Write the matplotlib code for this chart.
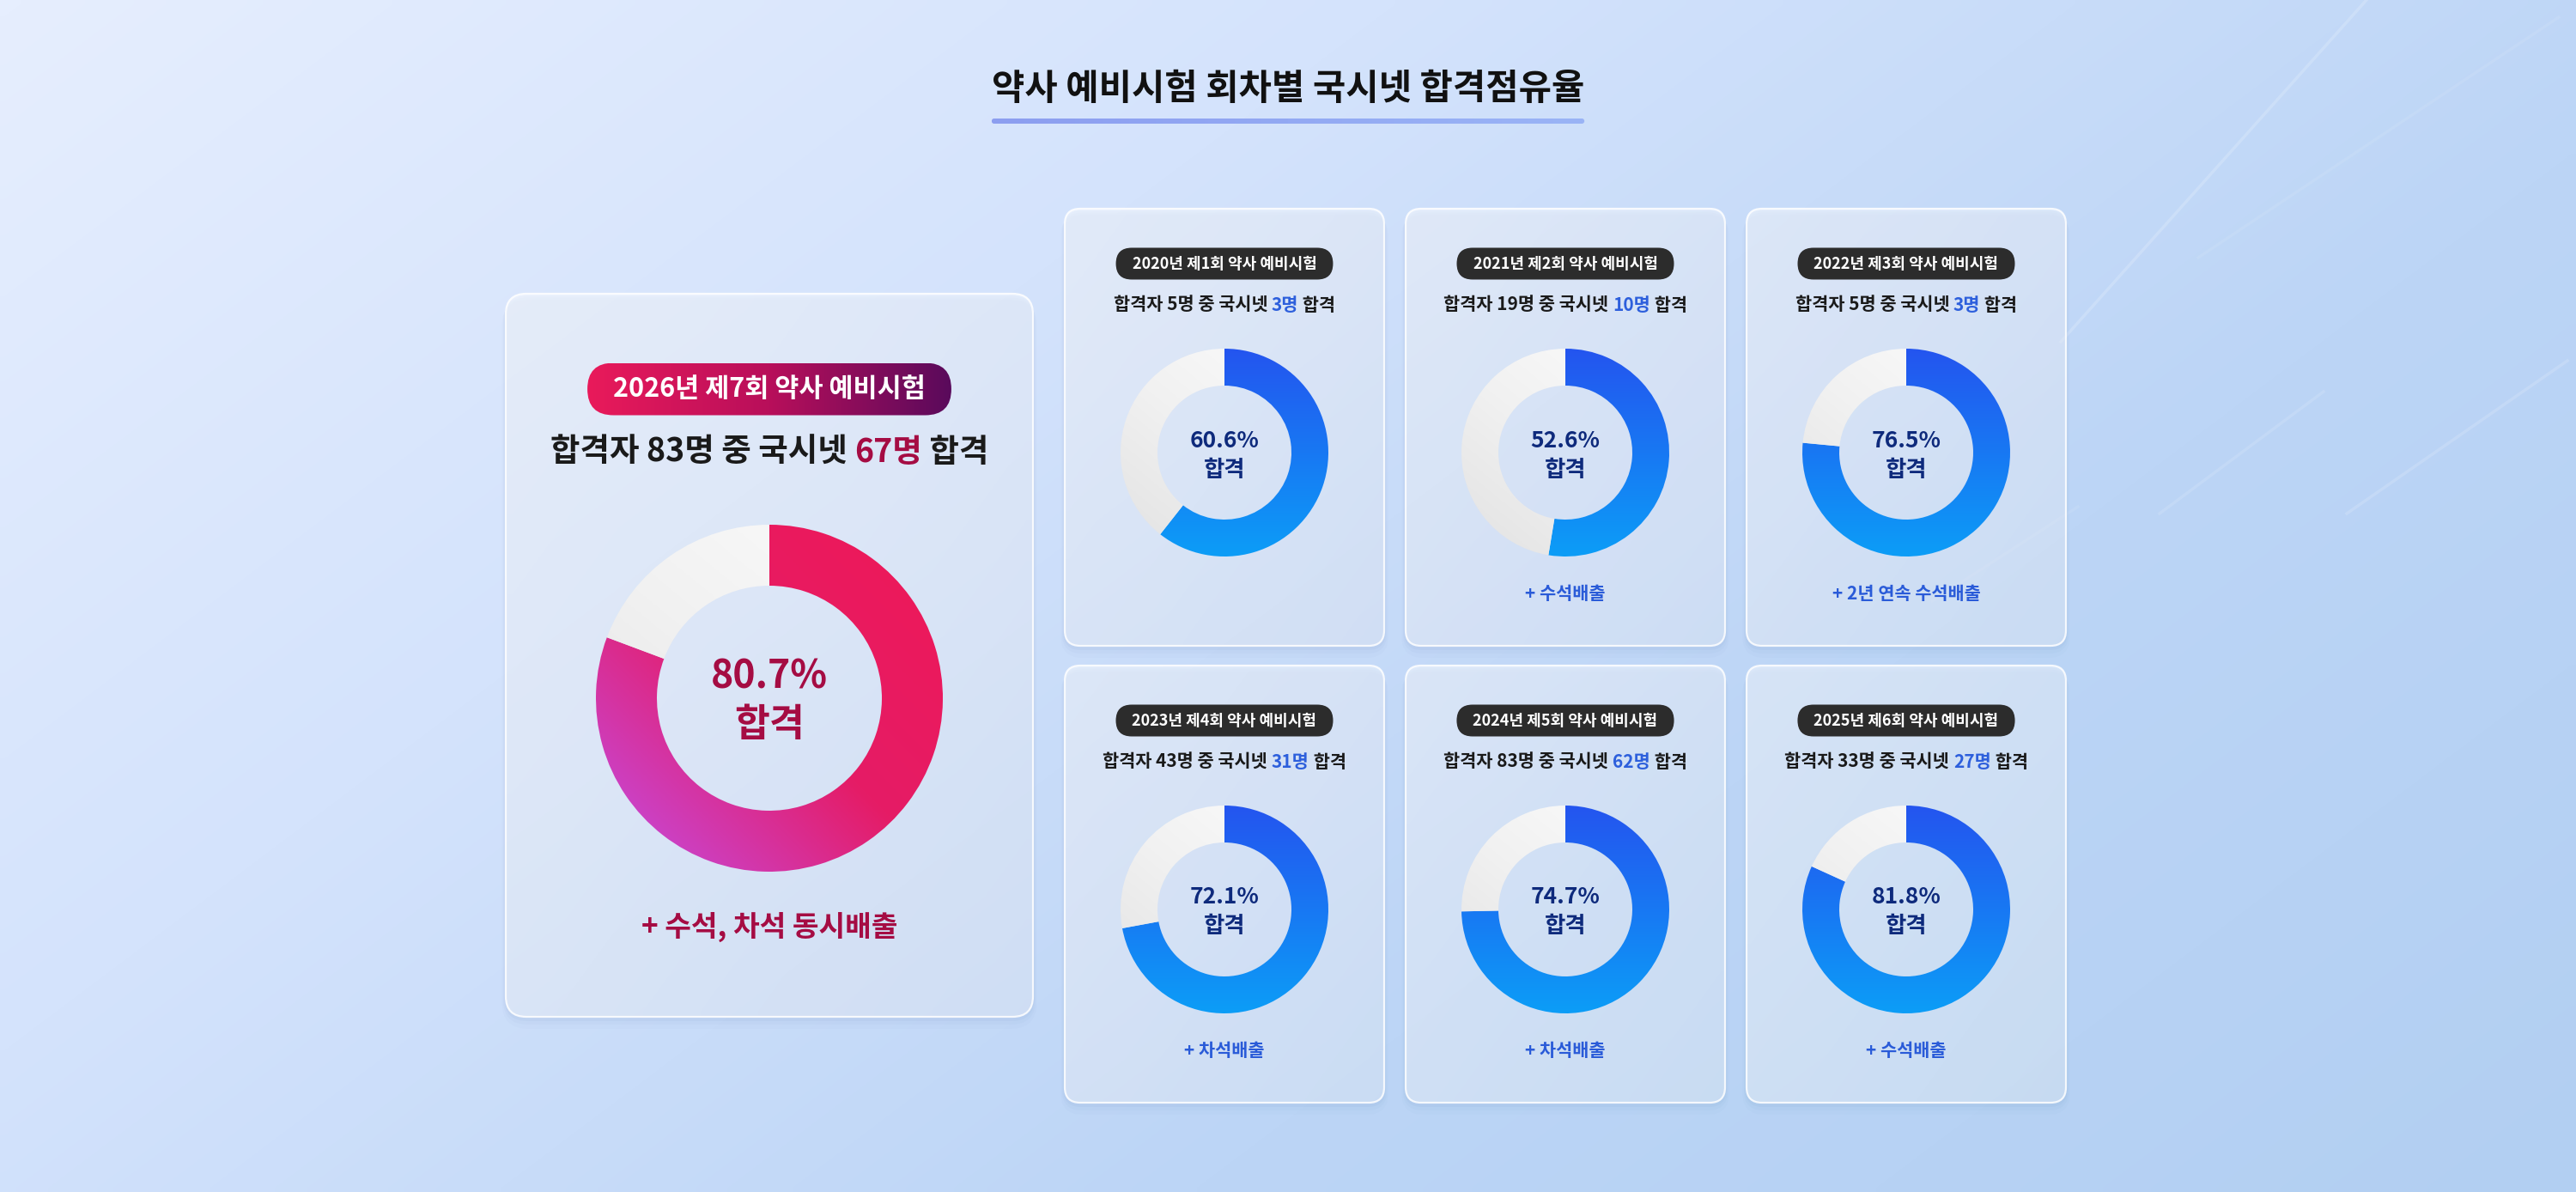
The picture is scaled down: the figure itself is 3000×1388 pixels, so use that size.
import numpy as np
import matplotlib
matplotlib.use('Agg')
import matplotlib.pyplot as plt
from matplotlib.patches import Wedge, FancyBboxPatch
from matplotlib.colors import LinearSegmentedColormap

plt.rcParams['font.family'] = ['Noto Sans CJK KR', 'DejaVu Sans']

W, H = 3000, 1388

# 회차별 데이터
years = [2020, 2021, 2022, 2023, 2024, 2025]
rounds = [1, 2, 3, 4, 5, 6]
total_pass = [5, 19, 5, 43, 83, 33]
net_pass = [3, 10, 3, 31, 62, 27]
share = [60.6, 52.6, 76.5, 72.1, 74.7, 81.8]
notes = ['', '수석배출', '2년 연속 수석배출', '차석배출', '차석배출', '수석배출']

# 최신 회차
main_year, main_round = 2026, 7
main_total, main_net, main_share = 83, 67, 80.7
main_note = '수석, 차석 동시배출'

title = '약사 예비시험 회차별 국시넷 합격점유율'

cm_bg = LinearSegmentedColormap.from_list('bg', ['#e6eefe', '#d4e3fc', '#bcd5f6', '#b2cff2'])
cm_blue = LinearSegmentedColormap.from_list('blue', ['#2455ef', '#1878f3', '#0c9df7'])
cm_pink = LinearSegmentedColormap.from_list('pink', ['#ef1857', '#e51c66', '#c24fe8'])
cm_gray = LinearSegmentedColormap.from_list('gray', ['#fcfcfc', '#f1f1f1', '#e2e2e2'])
cm_badge = LinearSegmentedColormap.from_list('badge', ['#e91a5b', '#b80f5a', '#5a0a5c'])

fig = plt.figure(figsize=(30, 13.88), dpi=100)
ax = fig.add_axes([0, 0, 1, 1])
ax.set_xlim(0, W)
ax.set_ylim(H, 0)
ax.axis('off')
renderer = fig.canvas.get_renderer()

# 배경
u, v = np.meshgrid(np.linspace(0, 1, 300), np.linspace(0, 1, 140))
ax.imshow(0.62 * u + 0.38 * v, cmap=cm_bg, vmin=0, vmax=1, extent=(0, W, H, 0),
          origin='upper', interpolation='bilinear', aspect='auto', zorder=0)
for (x0, y0, x1, y1, a) in [(2400, 398, 2756, 0, 0.18), (2733, 598, 2990, 420, 0.15),
                            (2515, 598, 2706, 456, 0.12), (2560, 300, 2980, 20, 0.08),
                            (2250, 700, 2420, 590, 0.08)]:
    ax.plot([x0, x1], [y0, y1], color='white', alpha=a, lw=2.5, zorder=1)


def text_width(s, size, weight):
    t = ax.text(0, 0, s, fontsize=size, fontweight=weight)
    w = t.get_window_extent(renderer).width
    t.remove()
    return w


def grad(clip, extent, t, cmap, z):
    im = ax.imshow(t, cmap=cmap, vmin=0, vmax=1, extent=extent, origin='upper',
                   interpolation='bilinear', aspect='auto', zorder=z)
    im.set_clip_path(clip)


def card(x, y, w, h, r):
    for d, a in [(14, 0.025), (9, 0.035), (5, 0.05)]:
        ax.add_patch(FancyBboxPatch((x - d / 3, y + d / 2), w + 2 * d / 3, h + d / 2,
                                    boxstyle=f'round,pad=0,rounding_size={r + d / 2}',
                                    fc='#5d80b8', ec='none', alpha=a, zorder=2))
    p = FancyBboxPatch((x, y), w, h, boxstyle=f'round,pad=0,rounding_size={r}',
                       fc='none', ec='none', zorder=3)
    ax.add_patch(p)
    uu, vv = np.meshgrid(np.linspace(0, 1, 40), np.linspace(0, 1, 60))
    a = 0.48 - 0.14 * (0.5 * uu + 0.5 * vv)
    rgba = np.ones((60, 40, 4))
    rgba[..., 3] = a
    im = ax.imshow(rgba, extent=(x, x + w, y + h, y), origin='upper',
                   interpolation='bilinear', aspect='auto', zorder=3)
    im.set_clip_path(p)
    ax.add_patch(FancyBboxPatch((x, y), w, h, boxstyle=f'round,pad=0,rounding_size={r}',
                                fc='none', ec=(1, 1, 1, 0.85), lw=1.6, zorder=4))


def badge(cx, cy, label, size, h, pad, gradient=False):
    tw = text_width(label, size, 'semibold')
    w = tw + 2 * pad
    p = FancyBboxPatch((cx - w / 2, cy - h / 2), w, h,
                       boxstyle=f'round,pad=0,rounding_size={h / 2}',
                       fc='none' if gradient else '#2c2c2c', ec='none', zorder=5)
    ax.add_patch(p)
    if gradient:
        uu = np.tile(np.linspace(0, 1, 200), (4, 1))
        grad(p, (cx - w / 2, cx + w / 2, cy + h / 2, cy - h / 2), uu, cm_badge, 5)
    ax.text(cx, cy, label, fontsize=size, fontweight='semibold', color='white',
            ha='center', va='center', zorder=6)


def rich_line(cx, cy, parts, size, weight):
    full = ''.join(s for s, _ in parts)
    wf = text_width(full, size, weight)
    x0 = cx - wf / 2
    acc = ''
    for s, c in parts:
        acc += s
        ax.text(x0 + text_width(acc, size, weight), cy, s, fontsize=size, fontweight=weight,
                color=c, ha='right', va='center', zorder=6)


def donut(cx, cy, r_out, r_in, pct, cmap, diag):
    end = -90 + 3.6 * pct
    wf = Wedge((cx, cy), r_out, -90, end, width=r_out - r_in, fc='none', ec='none')
    wr = Wedge((cx, cy), r_out, end, 270, width=r_out - r_in, fc='none', ec='none')
    ax.add_patch(wf)
    ax.add_patch(wr)
    uu, vv = np.meshgrid(np.linspace(0, 1, 200), np.linspace(0, 1, 200))
    ext = (cx - r_out, cx + r_out, cy + r_out, cy - r_out)
    tf = 0.5 * ((1 - uu) + vv) if diag else vv
    grad(wf, ext, tf, cmap, 5)
    grad(wr, ext, 0.55 * vv + 0.45 * (1 - uu), cm_gray, 5)


# 제목
tw = text_width(title, 30, 'bold')
ax.text(W / 2, 104, title, fontsize=30, fontweight='bold', color='#111111',
        ha='center', va='center', zorder=6)
uline = FancyBboxPatch((W / 2 - tw / 2, 138), tw, 6, boxstyle='round,pad=0,rounding_size=3',
                       fc='none', ec='none', zorder=5)
ax.add_patch(uline)
grad(uline, (W / 2 - tw / 2, W / 2 + tw / 2, 144, 138),
     np.tile(np.linspace(0, 1, 100), (3, 1)),
     LinearSegmentedColormap.from_list('ul', ['#8c9ef0', '#9ab4f6']), 5)

# 메인 카드
bx, by, bw, bh = 589, 342, 614, 842
card(bx, by, bw, bh, 24)
bcx = bx + bw / 2
badge(bcx, by + 111, f'{main_year}년 제{main_round}회 약사 예비시험', 22, 61, 30, gradient=True)
rich_line(bcx, by + 184, [(f'합격자 {main_total}명 중 국시넷 ', '#1a1a1a'),
                          (f'{main_net}명', '#a50c43'), (' 합격', '#1a1a1a')], 27, 'semibold')
donut(bcx, by + 471, 202, 131, main_share, cm_pink, True)
ax.text(bcx, by + 446, f'{main_share}%', fontsize=32, fontweight='bold', color='#a50c43',
        ha='center', va='center', zorder=6)
ax.text(bcx, by + 502, '합격', fontsize=32, fontweight='bold', color='#a50c43',
        ha='center', va='center', zorder=6)
ax.text(bcx, by + 737, '+ ' + main_note, fontsize=24, fontweight='bold', color='#a50c43',
        ha='center', va='center', zorder=6)

# 회차별 카드
col_x = [1240, 1637, 2034]
row_y = [243, 775]
cw, ch = 372, 509
for i in range(len(years)):
    x = col_x[i % 3]
    y = row_y[i // 3]
    cx = x + cw / 2
    card(x, y, cw, ch, 18)
    badge(cx, y + 64, f'{years[i]}년 제{rounds[i]}회 약사 예비시험', 13, 37, 19)
    rich_line(cx, y + 112, [(f'합격자 {total_pass[i]}명 중 국시넷 ', '#1a1a1a'),
                            (f'{net_pass[i]}명', '#2d5fdc'), (' 합격', '#1a1a1a')], 15, 'semibold')
    donut(cx, y + 284, 121, 78, share[i], cm_blue, False)
    ax.text(cx, y + 270, f'{share[i]}%', fontsize=19, fontweight='bold', color='#0e2a7c',
            ha='center', va='center', zorder=6)
    ax.text(cx, y + 304, '합격', fontsize=19, fontweight='bold', color='#0e2a7c',
            ha='center', va='center', zorder=6)
    if notes[i]:
        ax.text(cx, y + 448, '+ ' + notes[i], fontsize=15, fontweight='bold', color='#2a5bd8',
                ha='center', va='center', zorder=6)

ax.set_xlim(0, W)
ax.set_ylim(H, 0)
fig.savefig('out.png', dpi=100)
